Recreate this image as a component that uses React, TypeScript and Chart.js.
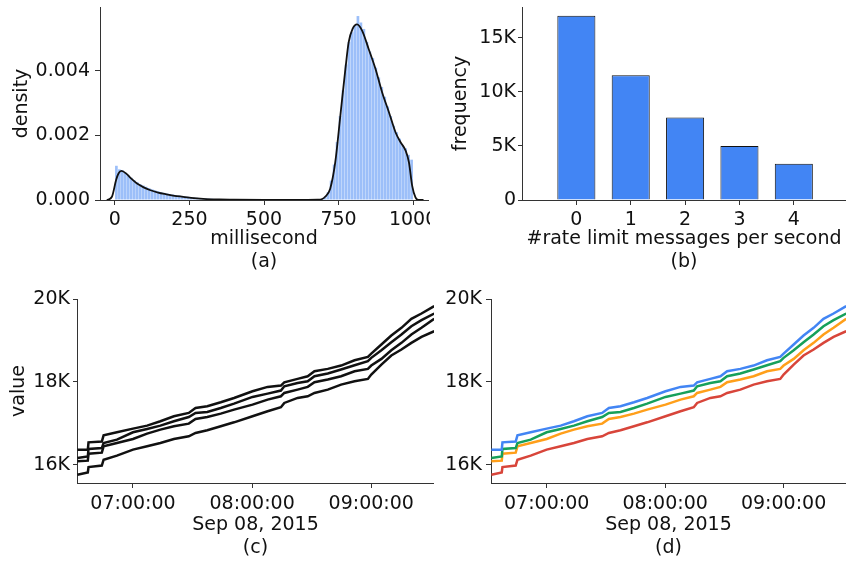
import React, { useEffect, useRef } from 'react';
import { Chart, registerables } from 'chart.js';

Chart.register(...registerables);

const FONT = 'DejaVu Sans';
const FS = 19;

// ---------- (a) histogram + KDE of milliseconds ----------
const HIST_BIN_MS = 10;
const histDensity = [
  0.00106, 0.00095, 0.00092, 0.00085, 0.00077, 0.00069, 0.00061, 0.00055, 0.00049, 0.00045,
  0.00041, 0.00037, 0.00033, 0.0003, 0.00027, 0.00024, 0.00022, 0.0002, 0.00018, 0.00017,
  0.00015, 0.00014, 0.00012, 0.00011, 0.0001, 0.00009, 0.00008, 0.00007, 0.00006, 0.00006,
  0.00005, 0.00004, 0.00004, 0.00003, 0.00003, 0.00002, 0.00002, 0.00002, 0.00001, 0.00001,
  0.00001, 0.00001, 0.00001, 0.00001, 0.00001, 0.00001, 0, 0, 0, 0,
  0, 0, 0, 0, 0, 0, 0, 0, 0, 0,
  0, 0, 0, 0, 0, 0, 0, 0, 0.00001, 0.00003,
  0.0001, 0.00025, 0.0006, 0.0011, 0.0018, 0.0026, 0.0034, 0.0042, 0.0049, 0.0052,
  0.0054, 0.0057, 0.0055, 0.0053, 0.0049, 0.0046, 0.0044, 0.0041, 0.0038, 0.0035,
  0.0032, 0.0029, 0.0026, 0.0023, 0.0021, 0.0019, 0.0017, 0.0016, 0.0014, 0.00125,
];
const kdeMs = [-27, -10, 4, 12, 22, 39, 55, 73, 95, 117, 145, 173, 200, 229, 265, 307, 350, 397, 500, 600, 680, 695, 705, 722, 739, 756, 773, 784, 797, 812, 829, 851, 874, 896, 919, 941, 958, 975, 986, 997, 1008, 1018, 1035];
const kdeDensity = [0, 0.0001, 0.00062, 0.00082, 0.0009, 0.00081, 0.00066, 0.00052, 0.0004, 0.00031, 0.00023, 0.000176, 0.00013, 0.0001, 0.00006, 0.00003, 0.000015, 0.00001, 0.000003, 0.000002, 0.00001, 0.00003, 0.0001, 0.00035, 0.00117, 0.00261, 0.00406, 0.00489, 0.0053, 0.00544, 0.00525, 0.00468, 0.00406, 0.00334, 0.00272, 0.0021, 0.00179, 0.00153, 0.00117, 0.00044, 0.00008, 0, 0];
const msTicks = [0, 250, 500, 750, 1000];
const densityTicks = [0, 0.002, 0.004];

// ---------- (b) rate limit messages per second ----------
const rateCategories = [0, 1, 2, 3, 4];
const rateFrequency = [17050, 11550, 7650, 5000, 3360];
const freqTicks = [0, 5000, 10000, 15000];

// ---------- (c)/(d) time series ----------
// minutes since midnight, Sep 08, 2015
const timeMin = [392.0, 397.25, 397.6, 404.3, 405.2, 411.9, 420, 427.1, 433.8, 440.6, 448.1, 451.5, 457.4, 464.2, 470.9, 480.2, 487.8, 494.5, 496.2, 502.9, 508.0, 511.4, 518.1, 524.8, 531.6, 538.3, 540.0, 545.1, 550.1, 555.2, 560.2, 565.3, 571.7];
const seriesBlue = [16363, 16363, 16540, 16560, 16709, 16782, 16870, 16943, 17048, 17168, 17249, 17370, 17410, 17507, 17611, 17773, 17878, 17910, 17990, 18071, 18135, 18256, 18313, 18393, 18522, 18603, 18683, 18901, 19118, 19304, 19521, 19650, 19828];
const seriesGreen = [16161, 16201, 16379, 16400, 16524, 16604, 16782, 16862, 16943, 17048, 17152, 17249, 17273, 17370, 17475, 17636, 17716, 17789, 17894, 17974, 18015, 18135, 18200, 18297, 18401, 18498, 18579, 18764, 18957, 19143, 19344, 19489, 19650];
const seriesOrange = [16081, 16097, 16266, 16290, 16443, 16524, 16620, 16749, 16846, 16927, 16991, 17104, 17152, 17233, 17330, 17450, 17571, 17652, 17732, 17813, 17878, 17990, 18055, 18135, 18256, 18313, 18393, 18554, 18764, 18941, 19143, 19304, 19521];
const seriesRed = [15758, 15815, 15944, 15980, 16121, 16218, 16363, 16443, 16524, 16620, 16685, 16765, 16830, 16927, 17023, 17168, 17289, 17386, 17491, 17612, 17652, 17732, 17813, 17934, 18015, 18071, 18176, 18417, 18635, 18780, 18941, 19086, 19223];
const timeTicks = [420, 480, 540];
const valueTicks = [16000, 18000, 20000];
const seriesColors = ['#4285F4', '#16A05A', '#FF9F1A', '#D8453A'];
const seriesList = [seriesBlue, seriesGreen, seriesOrange, seriesRed];

const fmtTime = (m: number) => {
  const h = Math.floor(m / 60);
  const mm = Math.round(m - h * 60);
  const p = (n: number) => String(n).padStart(2, '0');
  return `${p(h)}:${p(mm)}:00`;
};
const fmtK = (v: number) => (v === 0 ? '0' : `${v / 1000}K`);

const fixedTicks = (vals: number[]) => (axis: any) => {
  axis.ticks = vals.map((v) => ({ value: v }));
};

function axis(opts: {
  min: number; max: number; ticks: number[]; fmt: (v: number) => string;
  tickLength: number; padding: number; size: { w?: number; h?: number };
  title?: { text: string | string[]; padTop?: number; padBottom?: number };
}) {
  const a: any = {
    type: 'linear',
    min: opts.min,
    max: opts.max,
    offset: false,
    grid: { display: true, offset: false, drawOnChartArea: false, drawTicks: true, tickLength: opts.tickLength, tickWidth: 1, tickColor: '#333' },
    border: { display: true, color: '#333', width: 1 },
    ticks: {
      font: { family: FONT, size: FS }, color: '#111', padding: opts.padding,
      autoSkip: false, maxRotation: 0, minRotation: 0,
      callback: (v: any) => opts.fmt(Number(v)),
    },
    afterBuildTicks: fixedTicks(opts.ticks),
    afterFit: (s: any) => {
      if (opts.size.w !== undefined) s.width = opts.size.w;
      if (opts.size.h !== undefined) s.height = opts.size.h;
      s.paddingTop = 0;
      s.paddingBottom = 0;
      s.paddingLeft = 0;
      s.paddingRight = 0;
    },
  };
  if (opts.title) {
    a.title = {
      display: true, text: opts.title.text, color: '#111',
      font: { family: FONT, size: FS, lineHeight: 1.2 },
      padding: { top: opts.title.padTop ?? 0, bottom: opts.title.padBottom ?? 0 },
    };
  }
  return a;
}

const basePlugins = { legend: { display: false }, tooltip: { enabled: false } };

function makeA(): any {
  return {
    type: 'bar',
    data: {
      datasets: [
        {
          type: 'line',
          data: kdeMs.map((x, i) => ({ x, y: kdeDensity[i] })),
          borderColor: '#111', borderWidth: 1.8, pointRadius: 0,
          cubicInterpolationMode: 'monotone', order: 0,
        },
        {
          type: 'bar',
          data: histDensity.map((y, i) => ({ x: i * HIST_BIN_MS + HIST_BIN_MS / 2, y })),
          backgroundColor: 'rgba(66,133,244,0.52)', borderWidth: 0,
          barPercentage: 0.9, categoryPercentage: 1, order: 1,
        },
      ],
    },
    options: {
      responsive: false, maintainAspectRatio: false, animation: false,
      layout: { padding: { left: 0, right: 2, top: 7, bottom: 0 } },
      plugins: basePlugins,
      scales: {
        x: axis({ min: -50, max: 1050, ticks: msTicks, fmt: (v) => String(v), tickLength: 5, padding: 4, size: { h: 80 }, title: { text: ['millisecond', '(a)'], padBottom: 7 } }),
        y: axis({ min: 0, max: 0.00598, ticks: densityTicks, fmt: (v) => v.toFixed(3), tickLength: 5, padding: 5, size: { w: 100 }, title: { text: 'density', padTop: 11 } }),
      },
    },
  };
}

function makeB(): any {
  return {
    type: 'bar',
    data: {
      datasets: [
        {
          data: rateCategories.map((x, i) => ({ x, y: rateFrequency[i] })),
          backgroundColor: '#4285F4', borderColor: '#111', borderWidth: 1,
          barPercentage: 0.7, categoryPercentage: 1,
        },
      ],
    },
    options: {
      responsive: false, maintainAspectRatio: false, animation: false,
      layout: { padding: { left: 0, right: 0, top: 7, bottom: 0 } },
      plugins: basePlugins,
      scales: {
        x: axis({ min: -1, max: 4.96, ticks: rateCategories, fmt: (v) => String(v), tickLength: 5, padding: 4, size: { h: 80 }, title: { text: ['#rate limit messages per second', '(b)'], padBottom: 7 } }),
        y: axis({ min: 0, max: 17870, ticks: freqTicks, fmt: fmtK, tickLength: 4, padding: 2, size: { w: 92 }, title: { text: 'frequency', padTop: 20 } }),
      },
    },
  };
}

function makeTS(colored: boolean, label: string): any {
  return {
    type: 'line',
    data: {
      datasets: seriesList.map((s, k) => ({
        data: timeMin.map((x, i) => ({ x, y: s[i] })),
        borderColor: colored ? seriesColors[k] : '#111',
        borderWidth: 2.5, pointRadius: 0, tension: 0,
      })),
    },
    options: {
      responsive: false, maintainAspectRatio: false, animation: false,
      layout: { padding: { left: 0, right: 0, top: 19, bottom: 0 } },
      plugins: basePlugins,
      scales: {
        x: axis({ min: 391.8, max: 571.6, ticks: timeTicks, fmt: fmtTime, tickLength: 5, padding: 5, size: { h: 82 }, title: { text: ['Sep 08, 2015', label], padBottom: 6 } }),
        y: colored
          ? axis({ min: 15558, max: 20000, ticks: valueTicks, fmt: fmtK, tickLength: 5, padding: 4, size: { w: 57 } })
          : axis({ min: 15558, max: 20000, ticks: valueTicks, fmt: fmtK, tickLength: 4, padding: 3, size: { w: 77 }, title: { text: 'value', padTop: 8 } }),
      },
    },
  };
}

function Panel({ left, top, width, height, make }: { left: number; top: number; width: number; height: number; make: () => any }) {
  const ref = useRef<HTMLCanvasElement>(null);
  useEffect(() => {
    const chart = new Chart(ref.current as HTMLCanvasElement, make());
    return () => chart.destroy();
  }, []);
  return (
    <canvas
      ref={ref}
      width={width}
      height={height}
      style={{ position: 'absolute', left, top, width, height, display: 'block' }}
    />
  );
}

export default function App() {
  return (
    <div style={{ position: 'absolute', left: 0, top: 0, width: 846, height: 565, background: '#fff', overflow: 'hidden' }}>
      <Panel left={0} top={0} width={430} height={280} make={makeA} />
      <Panel left={430} top={0} width={416} height={280} make={makeB} />
      <Panel left={0} top={280} width={434} height={285} make={() => makeTS(false, '(c)')} />
      <Panel left={434} top={280} width={412} height={285} make={() => makeTS(true, '(d)')} />
    </div>
  );
}
